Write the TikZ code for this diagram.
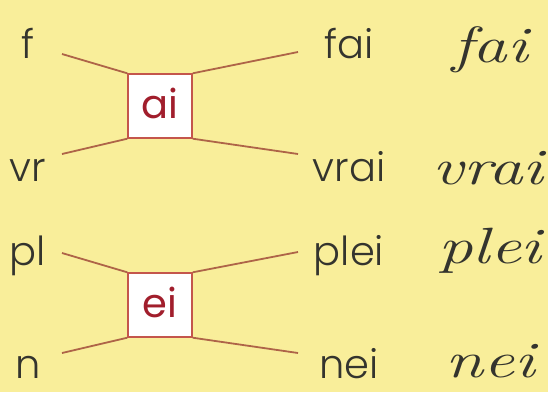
\documentclass[tikz,border=0pt]{standalone}
\usepackage{fontspec}
\setmainfont{Poppins Light}
\newfontfamily\sylfont{Poppins}
\newfontfamily\curfont{Latin Modern Roman}
\definecolor{bg}{HTML}{F9EE9A}
\definecolor{ln}{HTML}{AE6448}
\definecolor{bx}{HTML}{C4564C}
\definecolor{syl}{HTML}{A11E2C}
\definecolor{ink}{HTML}{34342E}
\newcommand{\cw}[1]{\scalebox{1.35}[1]{#1}}
\tikzset{
  word/.style={anchor=base, text=ink, font=\fontsize{40}{44}\selectfont, inner sep=0pt},
  cur/.style={anchor=base, text=ink, font=\fontsize{51}{54}\curfont\itshape, inner sep=0pt},
  sylbox/.style={draw=bx, line width=1.4pt, fill=white, minimum width=64pt, minimum height=64pt, inner sep=0pt},
  syltext/.style={anchor=base, text=syl, font=\fontsize{40}{44}\sylfont, inner sep=0pt},
  link/.style={draw=ln, line width=1.8pt}
}
\begin{document}
\begin{tikzpicture}[x=1pt,y=-1pt]
\fill[bg] (0,0) rectangle (548,392);
\useasboundingbox (0,0) rectangle (548,392);
% group ai
\node[sylbox] (b1) at (160,106) {};
\node[syltext] (t1) at (160,118) {ai};
\node[word] (f) at (28,58) {f};
\node[word] (vr) at (28,181) {vr};
\node[word] (fai) at (349,58) {fai};
\node[word] (vrai) at (349,181) {vrai};
\node[cur] (cfai) at (490,62) {\cw{fai}};
\node[cur] (cvrai) at (488,184) {\cw{vrai}};
\coordinate (l1) at (62,54);
\coordinate (l2) at (62,154);
\coordinate (r1) at (298,52);
\coordinate (r2) at (298,154);
\draw[link] (l1) -- (b1.north west);
\draw[link] (l2) -- (b1.south west);
\draw[link] (b1.north east) -- (r1);
\draw[link] (b1.south east) -- (r2);
% group ei
\node[sylbox] (b2) at (160,305) {};
\node[syltext] (t2) at (160,317) {ei};
\node[word] (pl) at (28,265) {pl};
\node[word] (n) at (28,378) {n};
\node[word] (plei) at (349,265) {plei};
\node[word] (nei) at (349,378) {nei};
\node[cur] (cplei) at (490,263) {\cw{plei}};
\node[cur] (cnei) at (490,377) {\cw{nei}};
\coordinate (l3) at (62,253);
\coordinate (l4) at (62,353);
\coordinate (r3) at (298,252);
\coordinate (r4) at (298,353);
\draw[link] (l3) -- (b2.north west);
\draw[link] (l4) -- (b2.south west);
\draw[link] (b2.north east) -- (r3);
\draw[link] (b2.south east) -- (r4);
\end{tikzpicture}
\end{document}
